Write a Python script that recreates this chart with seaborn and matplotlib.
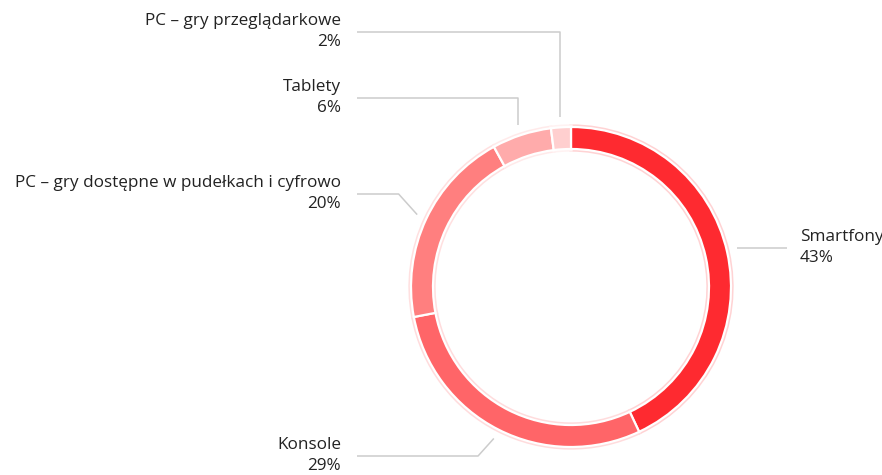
import numpy as np
import matplotlib.pyplot as plt
import seaborn as sns

sns.set_style("white")
plt.rcParams['font.family'] = ['Open Sans', 'DejaVu Sans']

labels = ['Smartfony', 'Konsole', 'PC – gry dostępne w pudełkach i cyfrowo',
          'Tablety', 'PC – gry przeglądarkowe']
shares = [43, 29, 20, 6, 2]
colors = ['#fe2a30', '#ff6568', '#ff7f7f', '#ffabab', '#ffcfcf']
tints = ['#ffd3d4', '#ffdcdd', '#ffe0e0', '#ffeaea', '#fff2f2']

W, H = 882, 475
cx, cy = 571, H - 287
R, ring = 160, 22

# connector layout (pixel rows of the horizontal part, and label side)
line_y = [248, 456, 194, 98, 32]
side = ['right', 'left', 'left', 'left', 'left']
bend = ['none', 'diag', 'diag', 'vert', 'vert']

fig = plt.figure(figsize=(W / 100, H / 100), dpi=100)
ax = fig.add_axes([0, 0, 1, 1])

outer, _ = ax.pie(shares, colors=colors, startangle=90, counterclock=False,
                  center=(cx, cy), radius=R + 1,
                  wedgeprops=dict(width=ring + 2, linewidth=2.4))
for w, t in zip(outer, tints):
    w.set_edgecolor(t)
wedges, _ = ax.pie(shares, colors=colors, startangle=90, counterclock=False,
                   center=(cx, cy), radius=R,
                   wedgeprops=dict(width=ring, edgecolor='white', linewidth=1.6))

for w, lab, pct, ly, sd, bd in zip(wedges, labels, shares, line_y, side, bend):
    mid = np.deg2rad((w.theta1 + w.theta2) / 2)
    ax_x = cx + 170 * np.cos(mid)
    ax_y = cy + 170 * np.sin(mid)
    yl = H - ly
    if sd == 'right':
        xs, ys = [ax_x, 787], [yl, yl]
        tx, ha = 800, 'left'
    else:
        if bd == 'vert':
            xs, ys = [ax_x, ax_x, 357], [ax_y, yl, yl]
        else:
            d = abs(yl - ax_y)
            xs, ys = [ax_x, ax_x - d * 0.9, 357], [ax_y, yl, yl]
        tx, ha = 341, 'right'
    ax.plot(xs, ys, color='#cccccc', lw=1.1, solid_capstyle='butt')
    ax.text(tx, yl + 11, lab, ha=ha, va='center', fontsize=12.3, color='#222222')
    ax.text(tx, yl - 10, f'{pct}%', ha=ha, va='center', fontsize=12.3, color='#222222')

ax.set_xlim(0, W)
ax.set_ylim(0, H)
ax.set_aspect('equal')
ax.axis('off')

fig.savefig('out.png', dpi=100, facecolor='white')
